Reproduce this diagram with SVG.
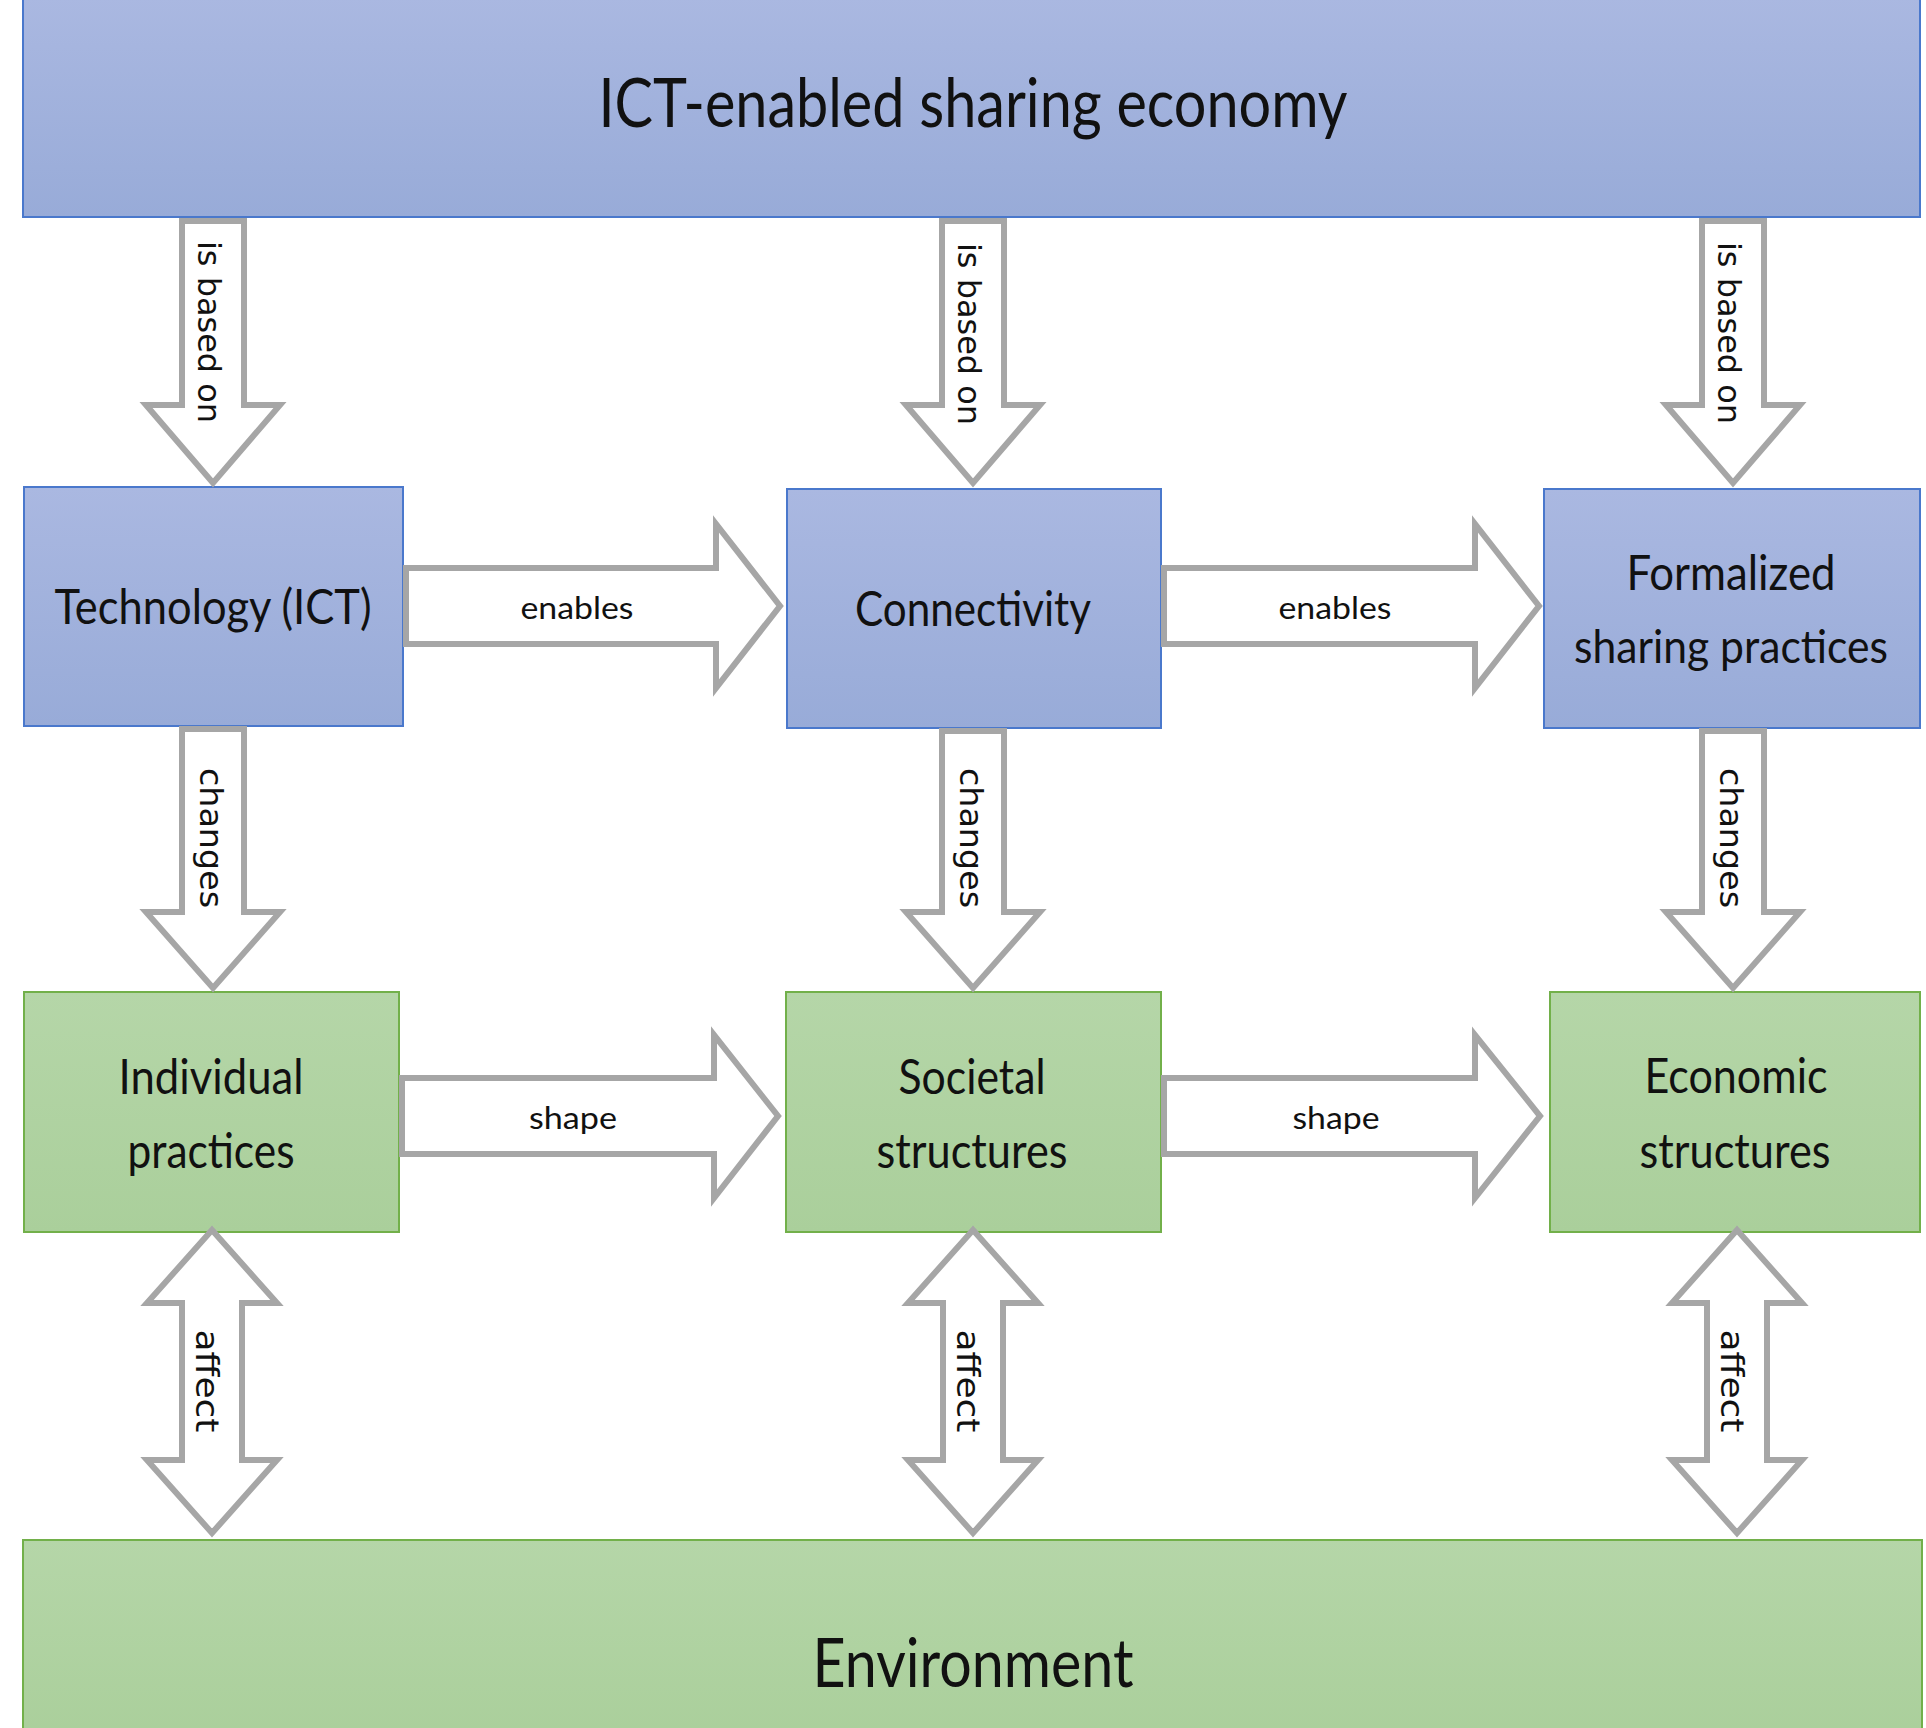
<svg xmlns="http://www.w3.org/2000/svg" width="1926" height="1728" viewBox="0 0 1926 1728">
<defs>
<linearGradient id="gBlue" x1="0" y1="0" x2="0" y2="1">
<stop offset="0" stop-color="#aab8e1"/>
<stop offset="1" stop-color="#98abd8"/>
</linearGradient>
<linearGradient id="gGreen" x1="0" y1="0" x2="0" y2="1">
<stop offset="0" stop-color="#b5d6a8"/>
<stop offset="1" stop-color="#aacf9b"/>
</linearGradient>
<style>
.blue{fill:url(#gBlue);stroke:#4a78cc;stroke-width:2}
.green{fill:url(#gGreen);stroke:#72b04a;stroke-width:2}
.lbl{font-family:Lato,"Open Sans",sans-serif;fill:#111;text-anchor:middle}
.big{font-size:68px}
.mid{font-size:49px}
.arr{fill:#fff;stroke:#a6a6a6;stroke-width:6;stroke-linejoin:miter}
.al{font-family:Lato,"Open Sans",sans-serif;font-size:30px;fill:#111;text-anchor:middle}
.vl{font-family:"DejaVu Sans",sans-serif;font-size:32px;fill:#111;text-anchor:middle}
</style>
</defs>
<rect width="1926" height="1728" fill="#fff"/>
<g id="n-ict">
<rect class="blue" x="23" y="-3" width="1897" height="220"/>
<text class="lbl big" x="973" y="127" textLength="749" lengthAdjust="spacingAndGlyphs">ICT-enabled sharing economy</text>
</g>
<g id="n-tech">
<rect class="blue" x="24" y="487" width="379" height="239"/>
<text class="lbl mid" x="213" y="624" textLength="317" lengthAdjust="spacingAndGlyphs">Technology (ICT)</text>
</g>
<g id="n-conn">
<rect class="blue" x="787" y="489" width="374" height="239"/>
<text class="lbl mid" x="973" y="626" textLength="236" lengthAdjust="spacingAndGlyphs">Connectivity</text>
</g>
<g id="n-formal">
<rect class="blue" x="1544" y="489" width="376" height="239"/>
<text class="lbl mid" x="1731" y="590" textLength="209" lengthAdjust="spacingAndGlyphs">Formalized</text>
<text class="lbl" font-size="47" x="1731" y="663" textLength="314" lengthAdjust="spacingAndGlyphs">sharing practices</text>
</g>
<g id="n-indiv">
<rect class="green" x="24" y="992" width="375" height="240"/>
<text class="lbl mid" x="211" y="1094" textLength="185" lengthAdjust="spacingAndGlyphs">Individual</text>
<text class="lbl mid" x="211" y="1168" textLength="167" lengthAdjust="spacingAndGlyphs">practices</text>
</g>
<g id="n-soc">
<rect class="green" x="786" y="992" width="375" height="240"/>
<text class="lbl mid" x="972" y="1094" textLength="147" lengthAdjust="spacingAndGlyphs">Societal</text>
<text class="lbl mid" x="972" y="1168" textLength="191" lengthAdjust="spacingAndGlyphs">structures</text>
</g>
<g id="n-econ">
<rect class="green" x="1550" y="992" width="370" height="240"/>
<text class="lbl mid" x="1736" y="1093" textLength="183" lengthAdjust="spacingAndGlyphs">Economic</text>
<text class="lbl mid" x="1735" y="1168" textLength="191" lengthAdjust="spacingAndGlyphs">structures</text>
</g>
<g id="n-env">
<rect class="green" x="23" y="1540" width="1899" height="200"/>
<text class="lbl big" x="973" y="1687" textLength="321" lengthAdjust="spacingAndGlyphs">Environment</text>
</g>
<g id="connectors">
<path class="arr" d="M182,221 H244 V405 H280 L213,483 L146,405 H182 Z"/>
<path class="arr" d="M942,221 H1004 V405 H1040 L973,483 L906,405 H942 Z"/>
<path class="arr" d="M1702,221 H1764 V405 H1800 L1733,483 L1666,405 H1702 Z"/>
<text class="vl" transform="translate(198,332) rotate(90)" textLength="182" lengthAdjust="spacingAndGlyphs">is based on</text>
<text class="vl" transform="translate(958,334) rotate(90)" textLength="182" lengthAdjust="spacingAndGlyphs">is based on</text>
<text class="vl" transform="translate(1718,333) rotate(90)" textLength="182" lengthAdjust="spacingAndGlyphs">is based on</text>
<path class="arr" d="M182,729 H244 V912 H280 L213,988 L146,912 H182 Z"/>
<path class="arr" d="M942,731 H1004 V912 H1040 L973,988 L906,912 H942 Z"/>
<path class="arr" d="M1702,731 H1764 V912 H1800 L1733,988 L1666,912 H1702 Z"/>
<text class="vl" transform="translate(200,838) rotate(90)" textLength="140" lengthAdjust="spacingAndGlyphs">changes</text>
<text class="vl" transform="translate(960,838) rotate(90)" textLength="140" lengthAdjust="spacingAndGlyphs">changes</text>
<text class="vl" transform="translate(1720,838) rotate(90)" textLength="140" lengthAdjust="spacingAndGlyphs">changes</text>
<path class="arr" d="M406,568 H716 V524 L780,606 L716,688 V644 H406 Z"/>
<path class="arr" d="M1164,568 H1475 V524 L1539,606 L1475,688 V644 H1164 Z"/>
<text class="al" x="577" y="619" textLength="113" lengthAdjust="spacingAndGlyphs">enables</text>
<text class="al" x="1335" y="619" textLength="113" lengthAdjust="spacingAndGlyphs">enables</text>
<path class="arr" d="M402,1078 H714 V1035 L778,1116 L714,1198 V1154 H402 Z"/>
<path class="arr" d="M1164,1078 H1475 V1035 L1540,1116 L1475,1198 V1154 H1164 Z"/>
<text class="al" x="573" y="1129" textLength="88" lengthAdjust="spacingAndGlyphs">shape</text>
<text class="al" x="1336" y="1129" textLength="87" lengthAdjust="spacingAndGlyphs">shape</text>
<path class="arr" d="M212,1230 L277,1303 H242 V1460 H277 L212,1533 L147,1460 H182 V1303 H147 Z"/>
<path class="arr" d="M973,1230 L1038,1303 H1003 V1460 H1038 L973,1533 L908,1460 H943 V1303 H908 Z"/>
<path class="arr" d="M1737,1230 L1802,1303 H1767 V1460 H1802 L1737,1533 L1672,1460 H1707 V1303 H1672 Z"/>
<text class="vl" transform="translate(196,1381) rotate(90)" textLength="103" lengthAdjust="spacingAndGlyphs">affect</text>
<text class="vl" transform="translate(957,1381) rotate(90)" textLength="103" lengthAdjust="spacingAndGlyphs">affect</text>
<text class="vl" transform="translate(1721,1381) rotate(90)" textLength="103" lengthAdjust="spacingAndGlyphs">affect</text>
</g>
</svg>
